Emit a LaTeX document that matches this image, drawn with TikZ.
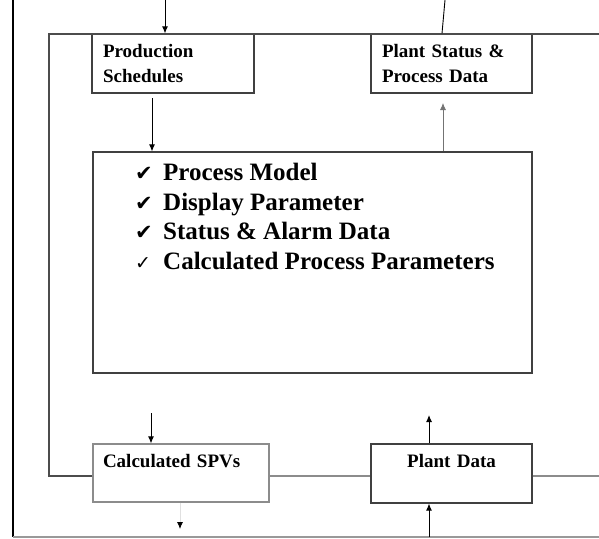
\documentclass[tikz,border=0pt]{standalone}
\usepackage{fontspec}
\setmainfont{Liberation Serif}
\newfontfamily\tickfont{DejaVu Sans}
\usetikzlibrary{arrows.meta,positioning}

\begin{document}
\begin{tikzpicture}[x=1pt, y=-1pt,
    every node/.style={font=\bfseries\fontsize{19}{25}\selectfont},
    box/.style={draw=black!75, line width=1.1pt, rectangle, inner sep=0pt},
    flow/.style={-{Latex[length=7pt,width=6pt]}, line width=1pt},
    frame/.style={draw=black!70, line width=1.4pt}]
      \useasboundingbox (0,0) rectangle (599,538);
      % boxes
      \node[box, minimum width=162pt, minimum height=59pt, text width=140pt, align=left] (prod) at (173, 63.5) {Production\\Schedules};
      \node[box, minimum width=161pt, minimum height=59pt, text width=139pt, align=left] (status) at (451.5, 63.5) {Plant Status \&\\Process Data};
      \node[box, minimum width=439pt, minimum height=221pt] (model) at (312.5, 262.5) {};
      \node[box, draw=black!45, minimum width=176pt, minimum height=58pt, text width=156pt, align=left] (spv) at (181, 473) {Calculated SPVs\\~};
      \node[box, minimum width=161pt, minimum height=59pt, text width=139pt, align=center] (plant) at (451.5, 473.5) {Plant Data\\~};
      \node[anchor=north west, inner sep=0pt, align=left, font=\bfseries\fontsize{25}{29.5}\selectfont] (params) at (135, 163)
        {\makebox[28pt][l]{\tickfont\fontsize{21}{21}\selectfont ✔}Process Model\\
         \makebox[28pt][l]{\tickfont\fontsize{21}{21}\selectfont ✔}Display Parameter\\
         \makebox[28pt][l]{\tickfont\fontsize{21}{21}\selectfont ✔}Status \& Alarm Data\\
         \makebox[28pt][l]{\tickfont\fontsize{19}{19}\selectfont ✓}Calculated Process Parameters};
      % free ends
      \coordinate (schedin) at (165, 0);
      \coordinate (schedout) at (152, 98);
      \coordinate (statusout) at (445, 0);
      \coordinate (statusup) at (443, 103);
      \coordinate (spvin) at (151, 413);
      \coordinate (spvout) at (180, 529);
      \coordinate (plantup) at (429, 415);
      \coordinate (plantin) at (429, 537);
      % outer lines
      \draw[line width=1.6pt] (13, 0) -- (13, 537);
      \draw[draw=black!40, line width=1.2pt] (13, 537) -- (599, 537);
      \draw[frame] (spv.west |- 0,476) -- (49, 476) -- (49, 34) -- (599, 34);
      \draw[draw=black!45, line width=1.1pt] (spv.east |- 0,476) -- (plant.west |- 0,476);
      \draw[draw=black!45, line width=1.1pt] (plant.east |- 0,476) -- (599, 476);
      % connectors
      \draw[flow] (schedin) -- (schedin |- prod.north);
      \draw[flow] (schedout) -- (schedout |- model.north);
      \draw[line width=0.9pt] (statusout) -- ([xshift=-9.5pt]status.north);
      \draw[flow, draw=black!55, line width=0.8pt] (statusup |- model.north) -- (statusup);
      \draw[flow] (spvin) -- (spvin |- spv.north);
      \draw[-{Latex[length=7pt,width=6pt,black]}, draw=black!12, line width=0.8pt] (spvout |- spv.south) -- (spvout);
      \draw[flow] (plantup |- plant.north) -- (plantup);
      \draw[flow] (plantin) -- (plantin |- plant.south);
    \end{tikzpicture}
\end{document}
